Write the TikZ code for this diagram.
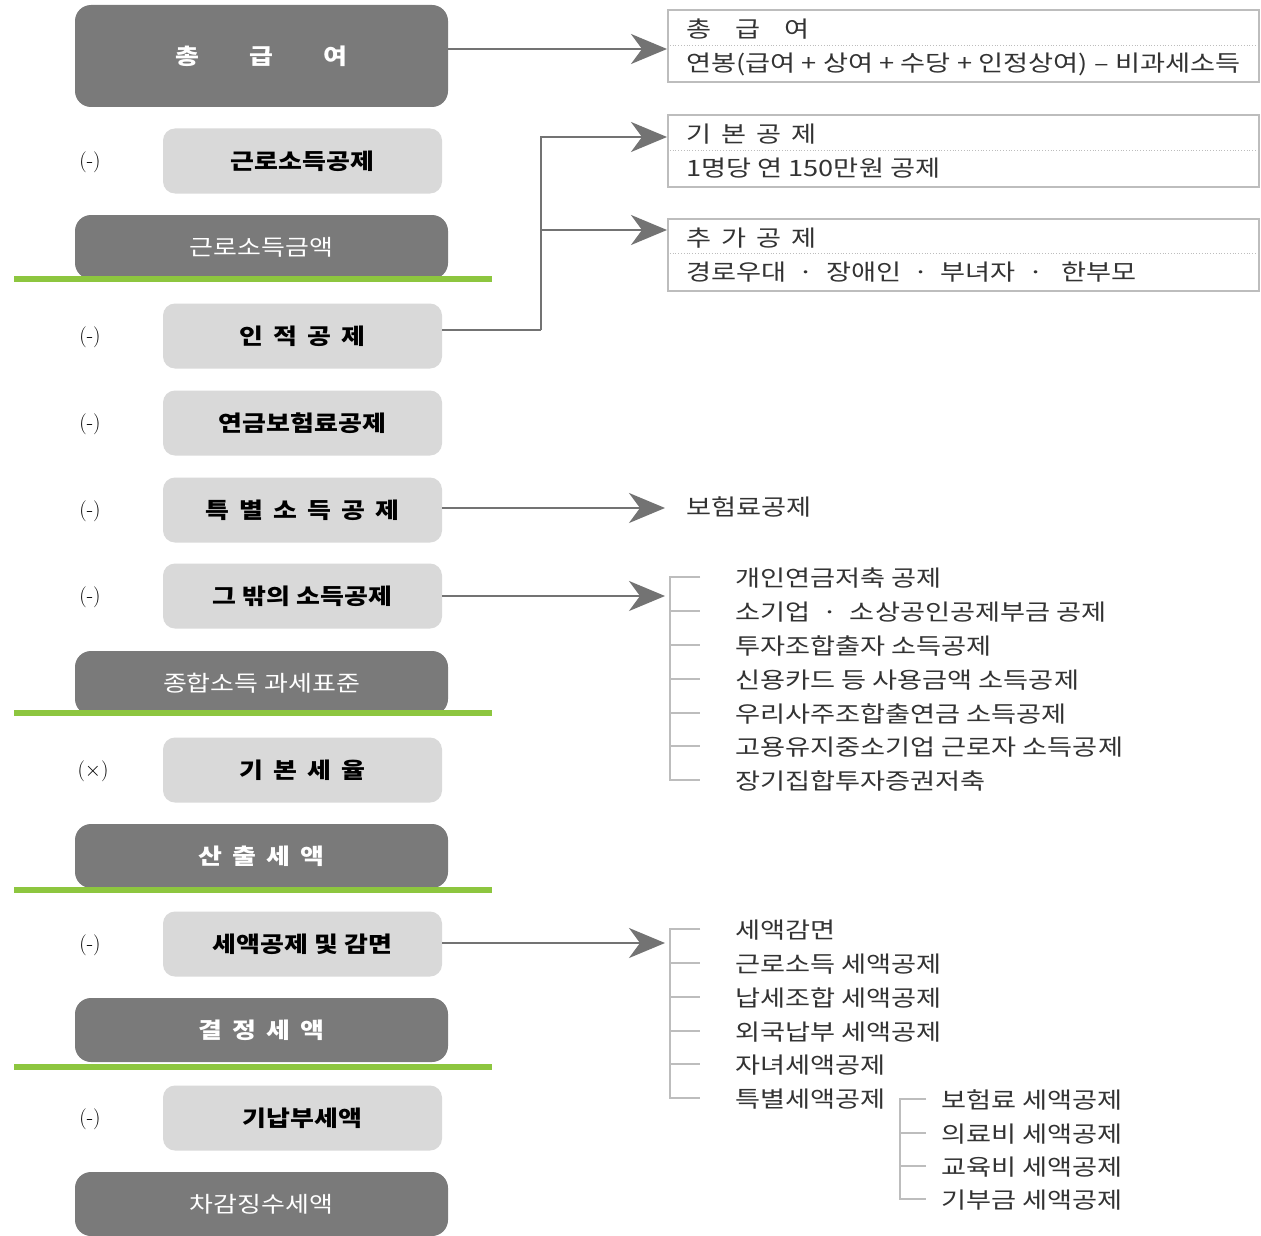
\documentclass[tikz,border=0pt]{standalone}
\usepackage{fontspec}
\newfontfamily\kr[FakeStretch=1.18]{Noto Sans CJK KR}
\newfontfamily\krw[FakeStretch=1.21]{Noto Sans CJK KR}
\usetikzlibrary{arrows.meta}
\definecolor{darkg}{HTML}{7A7A7A}
\definecolor{lightg}{HTML}{D9D9D9}
\definecolor{greenl}{HTML}{8DC63F}
\definecolor{linec}{HTML}{737373}
\definecolor{boxl}{HTML}{BDBDBD}
\definecolor{txt}{HTML}{333333}
\tikzset{
  darkbox/.style={rounded corners=16pt, fill=darkg, text=white, minimum width=373pt, font=\kr\bfseries\fontsize{22}{24}\selectfont, inner sep=0pt},
  lightbox/.style={rounded corners=12pt, fill=lightg, text=black, minimum width=279pt, minimum height=65pt, font=\kr\bfseries\fontsize{22}{24}\selectfont, inner sep=0pt},
  opl/.style={text=black, font=\fontsize{21}{24}\selectfont, inner sep=0pt},
  greenline/.style={greenl, line width=6pt},
  conn/.style={linec, line width=2.2pt},
  arr/.style={conn, -{Stealth[length=36pt,width=30pt,inset=11pt]}},
  infobox/.style={draw=boxl, line width=2pt, minimum width=591pt, minimum height=72pt, inner sep=0pt},
  itm/.style={anchor=west, text=txt, font=\krw\fontsize{22.5}{24}\selectfont, inner sep=0pt},
  brk/.style={boxl, line width=2pt}
}
\begin{document}
\begin{tikzpicture}[x=1pt,y=-1pt]
\useasboundingbox (0,0) rectangle (1261,1236);
\fill[white] (0,0) rectangle (1261,1236);

% left column
\node[darkbox, minimum height=102pt] (b1) at (261.5,56) {총\hspace{50pt}급\hspace{50pt}여};
\node[opl] (o1) at (90,162) {(-)};
\node[lightbox] (l1) at (302.5,161) {근로소득공제};
\node[darkbox, minimum height=64pt] (b2) at (261.5,247) {\mdseries 근로소득금액};
\node[opl] (o2) at (90,337) {(-)};
\node[lightbox] (l2) at (302.5,336) {인\hspace{10pt}적\hspace{10pt}공\hspace{10pt}제};
\node[opl] (o3) at (90,424) {(-)};
\node[lightbox] (l3) at (302.5,423) {연금보험료공제};
\node[opl] (o4) at (90,511) {(-)};
\node[lightbox] (l4) at (302.5,510) {특\hspace{10pt}별\hspace{10pt}소\hspace{10pt}득\hspace{10pt}공\hspace{10pt}제};
\node[opl] (o5) at (90,597) {(-)};
\node[lightbox] (l5) at (302.5,596) {그 밖의 소득공제};
\node[darkbox, minimum height=64pt] (b3) at (261.5,683) {\mdseries 종합소득 과세표준};
\node[opl] (o6) at (93,771) {($\times$)};
\node[lightbox] (l6) at (302.5,770) {기\hspace{10pt}본\hspace{10pt}세\hspace{10pt}율};
\node[darkbox, minimum height=64pt] (b4) at (261.5,856) {산\hspace{10pt}출\hspace{10pt}세\hspace{10pt}액};
\node[opl] (o7) at (90,945) {(-)};
\node[lightbox] (l7) at (302.5,944) {세액공제 및 감면};
\node[darkbox, minimum height=64pt] (b5) at (261.5,1030) {결\hspace{10pt}정\hspace{10pt}세\hspace{10pt}액};
\node[opl] (o8) at (90,1119) {(-)};
\node[lightbox] (l8) at (302.5,1118) {기납부세액};
\node[darkbox, minimum height=64pt] (b6) at (261.5,1204) {\mdseries 차감징수세액};

% green lines
\draw[greenline] (14,279) -- (492,279);
\draw[greenline] (14,713) -- (492,713);
\draw[greenline] (14,890) -- (492,890);
\draw[greenline] (14,1067) -- (492,1067);

% right info boxes
\node[infobox] (r1) at (963.5,46) {};
\draw[boxl, line width=0.8pt, dotted] (r1.west |- 0,45) -- (r1.east |- 0,45);
\node[itm] (r1a) at (686,29) {총\hspace{24pt}급\hspace{24pt}여};
\node[itm] (r1b) at (686,64) {연봉(급여\;+\;상여\;+\;수당\;+\;인정상여)\;–\;비과세소득};

\node[infobox] (r2) at (963.5,151) {};
\draw[boxl, line width=0.8pt, dotted] (r2.west |- 0,150) -- (r2.east |- 0,150);
\node[itm] (r2a) at (686,134) {기\hspace{10pt}본\hspace{10pt}공\hspace{10pt}제};
\node[itm] (r2b) at (686,168) {1명당 연 150만원 공제};

\node[infobox] (r3) at (963.5,255) {};
\draw[boxl, line width=0.8pt, dotted] (r3.west |- 0,253) -- (r3.east |- 0,253);
\node[itm] (r3a) at (686,238) {추\hspace{10pt}가\hspace{10pt}공\hspace{10pt}제};
\node[itm] (r3b) at (686,272) {경로우대 \ · \ 장애인 \ · \ 부녀자 \ · \ \ 한부모};

% connectors
\draw[arr] (b1.east |- 0,49) -- (r1.west |- 0,49);
\coordinate (j1) at (541,330);
\draw[conn] (l2.east |- 0,330) -- (j1);
\draw[arr] (j1) |- (r2.west |- 0,137);
\draw[arr] (541,230) -- (r3.west |- 0,230);

\node[itm] (t1) at (686,507) {보험료공제};
\draw[arr] (l4.east |- 0,508) -- ([xshift=-21pt]t1.west |- 0,508);

% bracket 1
\coordinate (k1) at (665,596);
\draw[arr] (l5.east |- 0,596) -- (k1);
\draw[brk] (700,577) -- (670,577) -- (670,780) -- (700,780);
\foreach \yy in {611,645,679,713,746} \draw[brk] (670,\yy) -- (700,\yy);
\node[itm] (i1) at (735,578) {개인연금저축 공제};
\node[itm] (i2) at (735,612) {소기업 \ · \ 소상공인공제부금 공제};
\node[itm] (i3) at (735,646) {투자조합출자 소득공제};
\node[itm] (i4) at (735,680) {신용카드 등 사용금액 소득공제};
\node[itm] (i5) at (735,714) {우리사주조합출연금 소득공제};
\node[itm] (i6) at (735,747) {고용유지중소기업 근로자 소득공제};
\node[itm] (i7) at (735,781) {장기집합투자증권저축};

% bracket 2
\coordinate (k2) at (665,943);
\draw[arr] (l7.east |- 0,943) -- (k2);
\draw[brk] (700,929) -- (670,929) -- (670,1098) -- (700,1098);
\foreach \yy in {963,997,1031,1064} \draw[brk] (670,\yy) -- (700,\yy);
\node[itm] (s1) at (735,930) {세액감면};
\node[itm] (s2) at (735,964) {근로소득 세액공제};
\node[itm] (s3) at (735,998) {납세조합 세액공제};
\node[itm] (s4) at (735,1032) {외국납부 세액공제};
\node[itm] (s5) at (735,1065) {자녀세액공제};
\node[itm] (s6) at (735,1099) {특별세액공제};

% sub-bracket
\draw[brk] (926,1099) -- (900,1099) -- (900,1199) -- (926,1199);
\foreach \yy in {1133,1166} \draw[brk] (900,\yy) -- (926,\yy);
\node[itm] (u1) at (941,1100) {보험료 세액공제};
\node[itm] (u2) at (941,1134) {의료비 세액공제};
\node[itm] (u3) at (941,1167) {교육비 세액공제};
\node[itm] (u4) at (941,1200) {기부금 세액공제};
\end{tikzpicture}
\end{document}
